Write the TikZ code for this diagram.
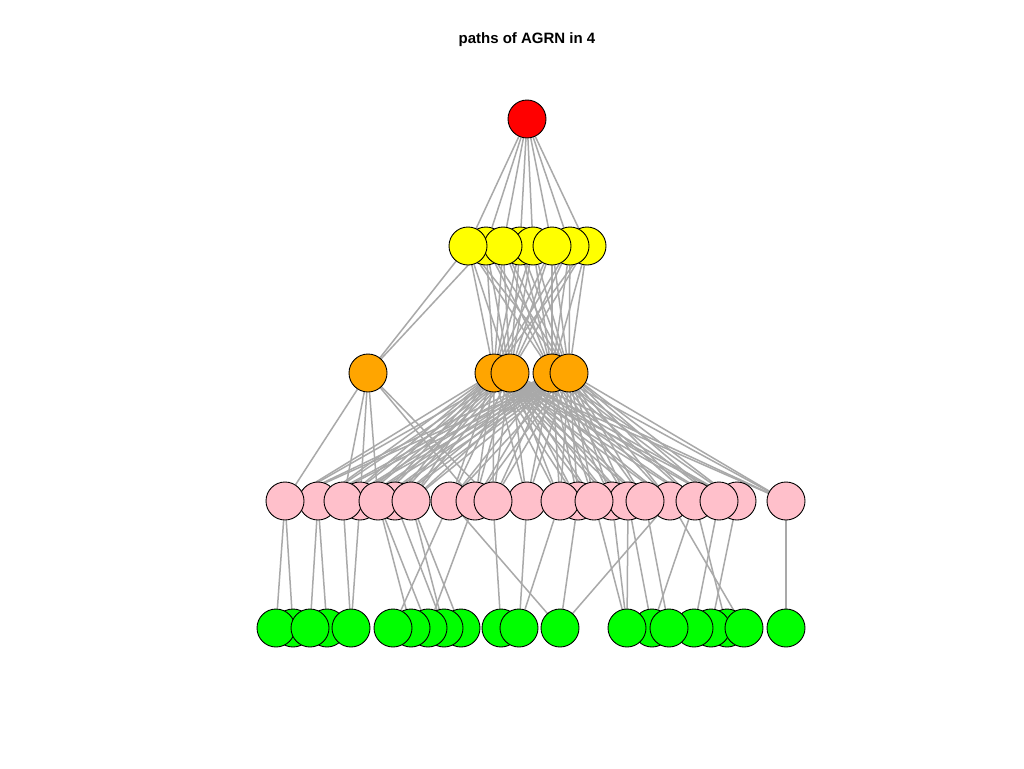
\documentclass[tikz,border=0pt]{standalone}
\usepackage{fontspec}
\setmainfont{Liberation Sans}
\pgfdeclarelayer{canvas}
\pgfdeclarelayer{background}
\pgfsetlayers{canvas,background,main}
\definecolor{edgegray}{HTML}{A9A9A9}
\definecolor{vred}{HTML}{FF0000}
\definecolor{vyellow}{HTML}{FFFF00}
\definecolor{vorange}{HTML}{FFA500}
\definecolor{vpink}{HTML}{FFC0CB}
\definecolor{vgreen}{HTML}{00FF00}
\tikzset{
  vertex/.style={circle, draw=black, line width=0.9pt, minimum size=38pt, inner sep=0pt},
  link/.style={draw=edgegray, line width=1.5pt},
}
\begin{document}
\begin{tikzpicture}[x=1pt, y=-1pt]
\useasboundingbox (0,0) rectangle (1024,768);
\begin{pgfonlayer}{canvas}
  \fill[white] (0,0) rectangle (1024,768);
\end{pgfonlayer}

\node[font=\bfseries\fontsize{15}{18}\selectfont] (title) at (527,40) {paths of AGRN in 4};

% root
\node[vertex, fill=vred] (r) at (527,119) {};

% second level (drawn back to front)
\foreach \n/\x in {y2/486, y4/520, y5/533, y8/587, y7/570, y6/552, y3/503, y1/468}
  \node[vertex, fill=vyellow] (\n) at (\x,246) {};

% third level
\foreach \n/\x in {o0/368, o1/494, o2/510, o3/552, o4/569}
  \node[vertex, fill=vorange] (\n) at (\x,373) {};

% fourth level
\foreach \n/\x in {p2/318, p4/360, p6/395, p8/450, p9/475, p11/527, p13/578, p15/612,
                   p16/628, p18/670, p19/695, p21/737,
                   p1/285, p3/343, p5/378, p7/411, p10/493, p12/560, p14/594, p17/645,
                   p20/719, p22/786}
  \node[vertex, fill=vpink] (\n) at (\x,501) {};

% fifth level
\foreach \n/\x in {g2/293, g4/327, g1/276, g3/310, g5/351,
                   g10/461, g9/444, g8/428, g7/411, g6/393,
                   g11/501, g12/519, g13/560,
                   g15/652, g19/727, g18/711, g17/694, g14/627, g16/669, g20/744, g21/786}
  \node[vertex, fill=vgreen] (\n) at (\x,628) {};

\begin{pgfonlayer}{background}
  % root to second level
  \foreach \b in {y1,y2,y3,y4,y5,y6,y7,y8}
    \draw[link] (r) -- (\b);
  % second to third level
  \foreach \a in {y1,y2,y3,y4,y5,y6,y7,y8}
    \foreach \b in {o1,o2,o3,o4}
      \draw[link] (\a) -- (\b);
  \draw[link] (y1) -- (o0);
  \draw[link] (y2) -- (o0);
  % third to fourth level
  \foreach \a in {o1,o2,o3,o4}
    \foreach \b in {p1,p2,p3,p4,p5,p6,p7,p8,p9,p10,p11,p12,p13,p14,p15,p16,p17,p18,p19,p20,p21,p22}
      \draw[link] (\a) -- (\b);
  \foreach \b in {p1,p3,p4,p5,p9,p10}
    \draw[link] (o0) -- (\b);
  % fourth to fifth level
  \foreach \a/\b in {p1/g1, p1/g2, p2/g3, p2/g4, p3/g5, p4/g5, p5/g7, p5/g8, p6/g9,
                     p7/g9, p7/g10, p8/g6, p8/g13, p9/g8, p10/g11, p11/g12, p12/g12,
                     p13/g13, p18/g13, p14/g14, p15/g14, p16/g14, p16/g15, p17/g16,
                     p19/g15, p18/g20, p19/g19, p20/g17, p21/g18, p22/g21}
    \draw[link] (\a) -- (\b);
\end{pgfonlayer}
\end{tikzpicture}
\end{document}
